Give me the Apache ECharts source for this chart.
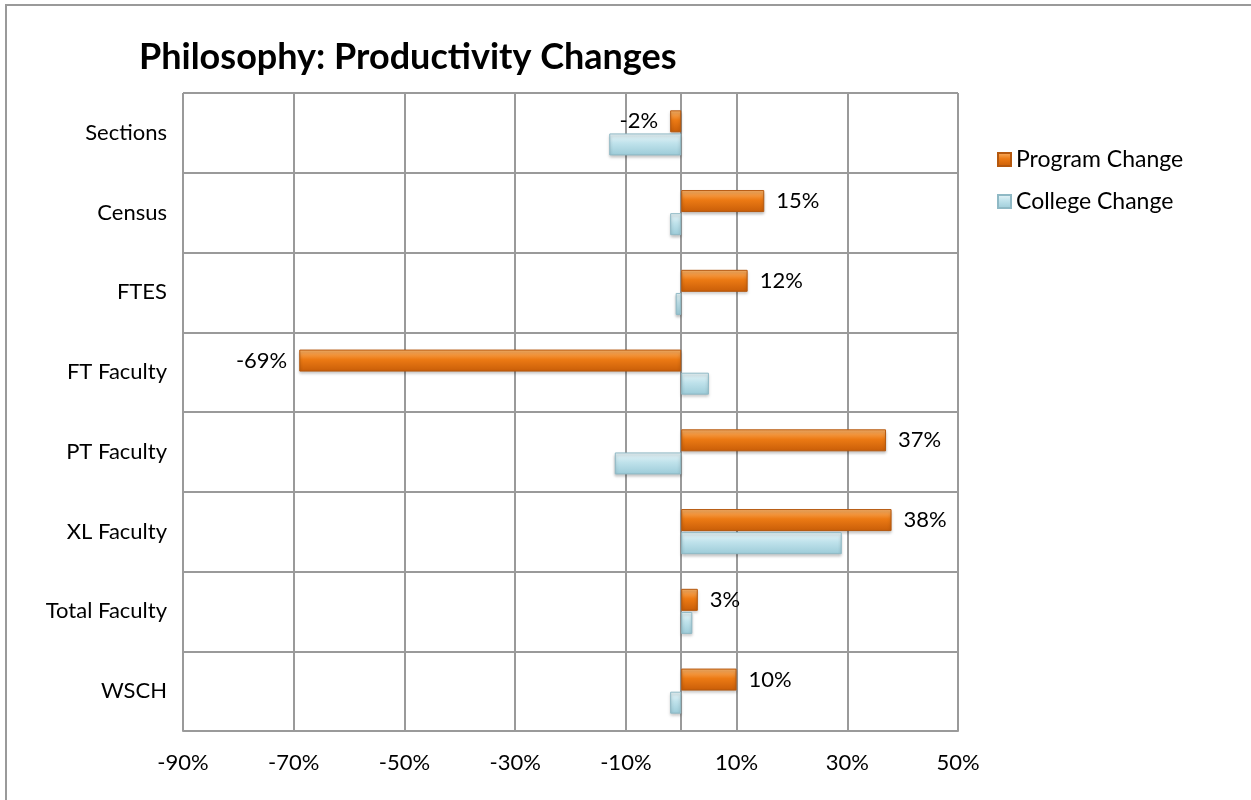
<!DOCTYPE html>
<html>
<head>
<meta charset="utf-8">
<script src="https://cdn.jsdelivr.net/npm/echarts@6/dist/echarts.min.js"></script>
<style>
  html, body { margin: 0; padding: 0; background: #fff; overflow: hidden; }
  #wrap { position: relative; width: 1251px; height: 800px; overflow: hidden; }
  #frame { position: absolute; left: 5px; top: 4px; width: 1300px; height: 900px; border: 2px solid #9a9a9a; box-sizing: border-box; }
  #chart { position: absolute; left: 0; top: 0; width: 1251px; height: 800px; }
</style>
</head>
<body>
<div id="wrap">
  <div id="frame"></div>
  <div id="chart"></div>
</div>
<script>
// categories top to bottom, values in percent
var categories = ['Sections', 'Census', 'FTES', 'FT Faculty', 'PT Faculty', 'XL Faculty', 'Total Faculty', 'WSCH'];
var programChange = [-2, 15, 12, -69, 37, 38, 3, 10];
var collegeChange = [-13, -2, -1, 5, -12, 29, 2, -2];
var xTicks = [-90, 50, 20]; // min, max, step

var FONT = 'Lato, "Open Sans", sans-serif';

function grad (c1, c2, c3) {
  return new echarts.graphic.LinearGradient(0, 0, 0, 1, [
    { offset: 0, color: c1 },
    { offset: 0.45, color: c2 },
    { offset: 1, color: c3 }
  ]);
}

// label goes on the outer end of each bar
var programData = programChange.map(function (v) {
  return { value: v, label: { position: v < 0 ? 'left' : 'right' } };
});

var option = {
  animation: false,
  backgroundColor: 'transparent',
  title: {
    text: 'Philosophy: Productivity Changes',
    left: 134,
    top: 34,
    textStyle: { fontFamily: FONT, fontSize: 36, fontWeight: 'bold', color: '#000' }
  },
  legend: {
    orient: 'vertical',
    left: 992,
    top: 141,
    itemWidth: 13,
    itemHeight: 13,
    itemGap: 15,
    icon: 'rect',
    textStyle: { fontFamily: FONT, fontSize: 23, color: '#000', lineHeight: 27 },
    data: ['Program Change', 'College Change']
  },
  grid: { left: 183, right: 293, top: 93, bottom: 69, containLabel: false },
  xAxis: {
    type: 'value',
    min: xTicks[0],
    max: xTicks[1],
    interval: xTicks[2],
    axisLine: { show: true, lineStyle: { color: '#9a9a9a', width: 2 } },
    axisTick: { show: false },
    splitLine: { show: true, lineStyle: { color: '#9a9a9a', width: 2 } },
    axisLabel: {
      margin: 21,
      fontFamily: FONT, fontSize: 22, color: '#000',
      formatter: function (v) { return v + '%'; }
    }
  },
  yAxis: {
    type: 'category',
    inverse: true,
    data: categories,
    axisLine: { show: true, onZero: true, lineStyle: { color: '#9a9a9a', width: 2 } },
    axisTick: { show: false },
    splitLine: { show: true, lineStyle: { color: '#9a9a9a', width: 2 } },
    axisLabel: { margin: 16, fontFamily: FONT, fontSize: 22, color: '#000' }
  },
  series: [{
    name: 'Program Change',
    type: 'bar',
    barWidth: 22,
    barGap: '5%',
    data: programData,
    itemStyle: {
      color: grad('#fbb46a', '#ec7a14', '#c85d08'),
      borderColor: '#b5580e',
      borderWidth: 1,
      shadowBlur: 3,
      shadowOffsetY: 2,
      shadowColor: 'rgba(0,0,0,0.25)'
    },
    label: {
      show: true,
      distance: 12,
      fontFamily: FONT, fontSize: 22, color: '#000',
      formatter: function (p) { return p.value + '%'; }
    }
  }, {
    name: 'College Change',
    type: 'bar',
    barWidth: 22,
    barGap: '5%',
    data: collegeChange,
    itemStyle: {
      color: grad('#eaf6f9', '#bfe2eb', '#9ccbd8'),
      borderColor: '#8fb9c5',
      borderWidth: 1,
      shadowBlur: 3,
      shadowOffsetY: 2,
      shadowColor: 'rgba(0,0,0,0.25)'
    }
  }]
};

var myChart = echarts.init(document.getElementById('chart'), null, { renderer: 'canvas' });
myChart.setOption(option);
</script>
</body>
</html>
